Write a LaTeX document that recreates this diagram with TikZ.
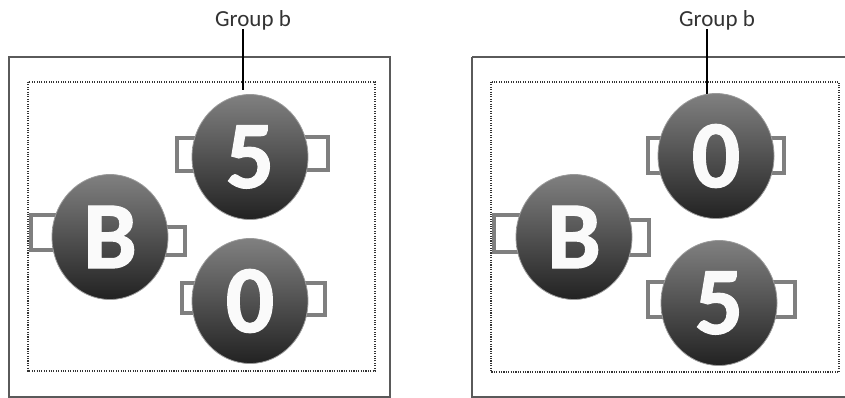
\documentclass[tikz,border=0pt]{standalone}
\usepackage{fontspec}
\setmainfont{Carlito}
\newfontfamily\ballfont{Carlito Bold}[FakeBold=1.2]
\usetikzlibrary{shapes.geometric}
\definecolor{frame}{HTML}{5A5A5A}
\definecolor{handle}{HTML}{7F7F7F}
\definecolor{balltop}{HTML}{808080}
\definecolor{ballmid}{HTML}{474747}
\definecolor{ballbot}{HTML}{222222}
\definecolor{ballrim}{HTML}{9A9A9A}
\tikzset{
  outerbox/.style={draw=frame, line width=1.5pt},
  dotbox/.style={draw=black!80, line width=1.1pt, dash pattern=on 1.1pt off 1.3pt},
  handlebox/.style={draw=handle, fill=white, line width=3.3pt},
  ball/.style={ellipse, minimum width=116pt, minimum height=125pt, inner sep=0pt,
    draw=ballrim, line width=0.8pt,
    top color=balltop, middle color=ballmid, bottom color=ballbot,
    text=white!96!gray, font=\fontsize{96}{96}\selectfont\ballfont},
  grouplabel/.style={font=\fontsize{23}{23}\selectfont, text=black!80, inner sep=0pt, anchor=base},
  stem/.style={draw=black, line width=2pt}
}
\begin{document}
\begin{tikzpicture}[x=1pt, y=-1pt]
\useasboundingbox (0,0) rectangle (845,398);
% ---------------- left panel
\draw[outerbox] (9,57) rectangle (390,397);
\draw[dotbox] (28,82) rectangle (375,371);
\node[grouplabel] (gl) at (253,27) {Group b};
\coordinate (gltop) at (243,29);
\coordinate (glend) at (243,90);
\draw[stem] (gltop) -- (glend);
% handles
\draw[handlebox] (177,138) rectangle (205,171);
\draw[handlebox] (295,137) rectangle (328,170);
\draw[handlebox] (31,215) rectangle (65,250);
\draw[handlebox] (155,227) rectangle (185,255);
\draw[handlebox] (182,283) rectangle (205,313);
\draw[handlebox] (295,283) rectangle (325,315);
% balls
\node[ball] (L5) at (250,157) {5};
\node[ball] (LB) at (110,237) {B};
\node[ball] (L0) at (250,301) {0};
% ---------------- right panel
\draw[outerbox] (472,57) -- (850,57);
\draw[outerbox] (472,57) -- (472,397) -- (850,397);
\draw[dotbox] (491,82) rectangle (839,372);
\node[grouplabel] (gr) at (717,27) {Group b};
\coordinate (grtop) at (707,29);
\coordinate (grend) at (707,94);
\draw[stem] (grtop) -- (grend);
% handles
\draw[handlebox] (648,138) rectangle (675,173);
\draw[handlebox] (760,138) rectangle (784,173);
\draw[handlebox] (494,215) rectangle (528,252);
\draw[handlebox] (620,220) rectangle (649,255);
\draw[handlebox] (648,282) rectangle (675,317);
\draw[handlebox] (760,282) rectangle (795,317);
% balls
\node[ball] (R0) at (716,156) {0};
\node[ball] (RB) at (574,237) {B};
\node[ball] (R5) at (719,303) {5};
\end{tikzpicture}
\end{document}
